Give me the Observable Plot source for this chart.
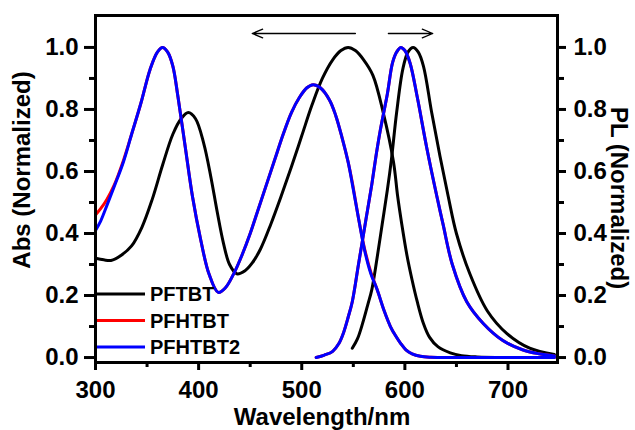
<!DOCTYPE html>
<html>
<head>
<meta charset="utf-8">
<script src="https://cdn.jsdelivr.net/npm/d3@7"></script>
<script src="https://cdn.jsdelivr.net/npm/@observablehq/plot@0.6"></script>
<style>
  html, body { margin: 0; padding: 0; background: #fff; }
  #chart { position: relative; width: 635px; height: 430px; overflow: hidden; }
</style>
</head>
<body>
<div id="chart"></div>
<script>
// ---- Data ----
const seriesNames = ["PFTBT", "PFHTBT", "PFHTBT2"];
const seriesColors = ["#000000", "#ff0000", "#0000ff"];

const xTicks = [300, 400, 500, 600, 700];
const xMinorTicks = [350, 450, 550, 650];
const yTicks = [0, 0.2, 0.4, 0.6, 0.8, 1.0];
const yMinorTicks = [0.1, 0.3, 0.5, 0.7, 0.9];

const xTitle = "Wavelength/nm";
const yLeftTitle = "Abs (Normalized)";
const yRightTitle = "PL (Normalized)";

// Absorption, PFTBT
const pftbtAbsWl = [300, 308, 315, 325, 335, 345, 355, 365, 375, 383, 390, 397, 405, 412, 418, 424, 430, 437, 445, 452, 460, 470, 480, 490, 500, 510, 520, 530, 538, 545, 552, 560, 569, 579, 589, 593, 597, 602, 607, 612, 618, 624, 632, 644, 655, 670, 700, 745];
const pftbtAbs   = [0.32, 0.315, 0.313, 0.33, 0.36, 0.42, 0.51, 0.62, 0.72, 0.77, 0.79, 0.77, 0.69, 0.58, 0.47, 0.37, 0.30, 0.27, 0.28, 0.305, 0.35, 0.43, 0.52, 0.615, 0.715, 0.815, 0.90, 0.96, 0.99, 1.0, 0.99, 0.96, 0.91, 0.79, 0.63, 0.52, 0.43, 0.33, 0.25, 0.18, 0.11, 0.065, 0.035, 0.015, 0.006, 0.002, 0, 0];

// Absorption, PFHTBT
const pfhtbtAbsWl = [300, 305, 311, 318, 327, 335, 344, 353, 360, 365, 370, 375, 380, 387, 394, 402, 410, 419, 426, 434, 442, 450, 458, 466, 474, 482, 490, 498, 505, 511, 518, 527, 533, 539, 545, 549, 555, 561, 567, 573, 580, 586, 591, 596, 601, 607, 615, 625, 650, 745];
const pfhtbtAbs   = [0.46, 0.48, 0.51, 0.555, 0.635, 0.72, 0.82, 0.93, 0.985, 1.0, 0.985, 0.94, 0.84, 0.68, 0.52, 0.38, 0.27, 0.21, 0.225, 0.27, 0.33, 0.40, 0.48, 0.56, 0.64, 0.72, 0.79, 0.84, 0.87, 0.88, 0.87, 0.83, 0.78, 0.71, 0.63, 0.565, 0.45, 0.35, 0.275, 0.22, 0.15, 0.10, 0.07, 0.045, 0.025, 0.012, 0.004, 0.001, 0, 0];

// Absorption, PFHTBT2
const pfhtbt2AbsWl = [300, 305, 311, 318, 327, 335, 344, 353, 360, 365, 370, 375, 380, 387, 394, 402, 410, 419, 426, 434, 442, 450, 458, 466, 474, 482, 490, 498, 505, 511, 518, 527, 533, 539, 545, 549, 555, 561, 567, 573, 580, 586, 591, 596, 601, 607, 615, 625, 650, 745];
const pfhtbt2Abs   = [0.41, 0.44, 0.49, 0.55, 0.63, 0.72, 0.82, 0.93, 0.985, 1.0, 0.985, 0.94, 0.84, 0.68, 0.52, 0.38, 0.27, 0.21, 0.225, 0.27, 0.33, 0.40, 0.48, 0.56, 0.64, 0.72, 0.79, 0.84, 0.87, 0.88, 0.87, 0.83, 0.78, 0.71, 0.63, 0.56, 0.45, 0.345, 0.27, 0.22, 0.15, 0.10, 0.07, 0.045, 0.025, 0.012, 0.004, 0.001, 0, 0];

// Photoluminescence, PFTBT
const pftbtPlWl = [549, 554, 559, 564, 568, 573, 578, 583, 587, 592, 598, 603, 608, 613, 618, 626, 634, 642, 650, 663, 680, 699, 721, 745];
const pftbtPl   = [0.03, 0.06, 0.11, 0.17, 0.22, 0.32, 0.43, 0.54, 0.64, 0.79, 0.93, 0.985, 1.0, 0.985, 0.94, 0.79, 0.65, 0.52, 0.40, 0.27, 0.15, 0.077, 0.03, 0.01];

// Photoluminescence, PFHTBT
const pfhtbtPlWl = [514, 522, 530, 536, 540, 545, 549, 555, 560, 564, 568, 572, 576, 583, 588, 592, 596, 600, 605, 612, 621, 631, 637, 646, 660, 676, 695, 714, 730, 745];
const pfhtbtPl   = [0.0, 0.008, 0.02, 0.045, 0.075, 0.13, 0.18, 0.30, 0.40, 0.48, 0.56, 0.65, 0.73, 0.85, 0.95, 0.985, 1.0, 0.99, 0.95, 0.84, 0.68, 0.52, 0.43, 0.30, 0.18, 0.11, 0.055, 0.025, 0.012, 0.005];

// Photoluminescence, PFHTBT2
const pfhtbt2PlWl = [514, 522, 530, 536, 540, 545, 549, 555, 560, 564, 568, 572, 576, 583, 588, 592, 596, 600, 605, 612, 621, 631, 637, 646, 660, 676, 695, 714, 730, 745];
const pfhtbt2Pl   = [0.0, 0.008, 0.02, 0.045, 0.075, 0.13, 0.18, 0.30, 0.40, 0.48, 0.56, 0.65, 0.73, 0.85, 0.95, 0.985, 1.0, 0.99, 0.95, 0.84, 0.68, 0.52, 0.43, 0.30, 0.18, 0.11, 0.055, 0.025, 0.012, 0.005];

// Shift arrows annotation (wavelength from -> to, height)
const arrowFrom = [552, 584];
const arrowTo   = [452, 627];
const arrowLevel = 1.045;

// ---- Build tables ----
function rows(wl, v, series, kind) {
  return wl.map((x, i) => ({ x, y: v[i], series, kind }));
}
const curves = [
  rows(pftbtAbsWl, pftbtAbs, "PFTBT", "abs"),
  rows(pftbtPlWl, pftbtPl, "PFTBT", "pl"),
  rows(pfhtbtAbsWl, pfhtbtAbs, "PFHTBT", "abs"),
  rows(pfhtbtPlWl, pfhtbtPl, "PFHTBT", "pl"),
  rows(pfhtbt2AbsWl, pfhtbt2Abs, "PFHTBT2", "abs"),
  rows(pfhtbt2PlWl, pfhtbt2Pl, "PFHTBT2", "pl")
];
const arrows = arrowFrom.map((x1, i) => ({ x1, x2: arrowTo[i], y: arrowLevel }));
const colorOf = Object.fromEntries(seriesNames.map((n, i) => [n, seriesColors[i]]));

const font = "'Liberation Sans', Arial, Helvetica, sans-serif";
const tickFont = 24;

const marks = [];
curves.forEach(data => {
  marks.push(Plot.line(data, {
    x: "x", y: "y", stroke: colorOf[data[0].series], strokeWidth: 3,
    curve: "catmull-rom"
  }));
});
marks.push(
  Plot.arrow(arrows, { x1: "x1", x2: "x2", y1: "y", y2: "y", stroke: "#000", strokeWidth: 1.3, headLength: 13, headAngle: 45 }),
  Plot.frame({ stroke: "#000", strokeWidth: 3 }),
  Plot.axisX({ ticks: xTicks, tickSize: 8, tickPadding: 10, strokeWidth: 3, fontSize: tickFont, label: null, tickFormat: d => String(d) }),
  Plot.axisX({ ticks: xMinorTicks, tickSize: 5, strokeWidth: 3, label: null, tickFormat: () => "" }),
  Plot.axisY({ anchor: "left", ticks: yTicks, tickSize: 11, tickPadding: 6, strokeWidth: 3, fontSize: tickFont, label: null, tickFormat: d => d.toFixed(1) }),
  Plot.axisY({ anchor: "left", ticks: yMinorTicks, tickSize: 6, strokeWidth: 3, label: null, tickFormat: () => "" }),
  Plot.axisY({ anchor: "right", ticks: yTicks, tickSize: 8, tickPadding: 8, strokeWidth: 3, fontSize: tickFont, label: null, tickFormat: d => d.toFixed(1) }),
  Plot.axisY({ anchor: "right", ticks: yMinorTicks, tickSize: 6, strokeWidth: 3, label: null, tickFormat: () => "" })
);

const plot = Plot.plot({
  width: 635,
  height: 430,
  marginTop: 15,
  marginBottom: 68,
  marginLeft: 95,
  marginRight: 78,
  style: { fontFamily: font, fontWeight: "bold", color: "#000", background: "#fff", overflow: "visible" },
  x: { domain: [300, 748] },
  y: { domain: [-0.016, 1.103] },
  marks
});

const svg = d3.select(plot);

// Axis titles
const tg = svg.append("g").attr("font-family", font).attr("font-weight", "bold").attr("font-size", 24)
  .attr("fill", "#000").attr("text-anchor", "middle");
tg.append("text").attr("transform", "translate(21,170) rotate(-90)").attr("dy", "0.36em").text(yLeftTitle);
tg.append("text").attr("transform", "translate(620,198) rotate(90)").attr("dy", "0.36em").text(yRightTitle);
tg.append("text").attr("x", 322).attr("y", 425).text(xTitle);

// Legend inside the plot (lower left)
const lg = svg.append("g").attr("font-family", font).attr("font-weight", "bold").attr("font-size", 20)
  .attr("text-anchor", "start");
seriesNames.forEach((name, i) => {
  const yy = 294 + i * 26.5;
  lg.append("line").attr("x1", 97).attr("x2", 145).attr("y1", yy).attr("y2", yy)
    .attr("stroke", seriesColors[i]).attr("stroke-width", 3);
  lg.append("text").attr("x", 150).attr("y", yy).attr("dy", "0.36em").attr("fill", "#000").text(name);
});

document.getElementById("chart").appendChild(plot);
</script>
</body>
</html>
